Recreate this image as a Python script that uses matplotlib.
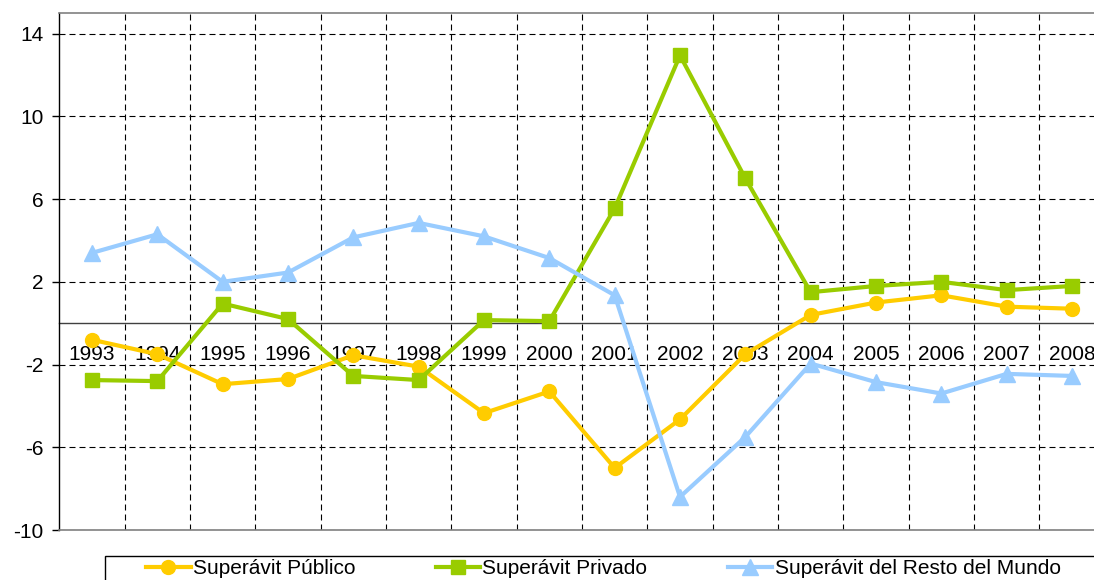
import matplotlib
matplotlib.use("Agg")
import matplotlib.pyplot as plt
from matplotlib.patches import Rectangle

plt.rcParams["font.family"] = ["Liberation Sans", "DejaVu Sans"]
plt.rcParams["font.size"] = 15
plt.rcParams["axes.unicode_minus"] = False

years = ["1993", "1994", "1995", "1996", "1997", "1998", "1999", "2000",
         "2001", "2002", "2003", "2004", "2005", "2006", "2007", "2008"]
publico = [-0.8, -1.5, -2.95, -2.7, -1.55, -2.1, -4.35, -3.3,
           -7.0, -4.65, -1.5, 0.4, 1.0, 1.35, 0.8, 0.7]
privado = [-2.75, -2.8, 0.95, 0.2, -2.55, -2.75, 0.15, 0.1,
           5.55, 12.95, 7.0, 1.5, 1.8, 2.0, 1.6, 1.8]
resto = [3.4, 4.3, 2.0, 2.45, 4.15, 4.85, 4.2, 3.15,
         1.35, -8.4, -5.5, -1.95, -2.85, -3.4, -2.45, -2.55]
yticks = [-10, -6, -2, 2, 6, 10, 14]

c_pub = "#FFCC00"
c_priv = "#99CC00"
c_resto = "#99CCFF"

fig = plt.figure(figsize=(10.94, 5.8), dpi=100)
ax = fig.add_axes([59.3 / 1094, 50 / 580, 1045.4 / 1094, 517 / 580])

x = list(range(len(years)))
ax.plot(x, publico, color=c_pub, lw=3, marker="o", ms=10, label="Superávit Público", zorder=4)
ax.plot(x, privado, color=c_priv, lw=3, marker="s", ms=9.5, label="Superávit Privado", zorder=4)
ax.plot(x, resto, color=c_resto, lw=3, marker="^", ms=11, label="Superávit del Resto del Mundo", zorder=4)

ax.set_xlim(-0.5, len(years) - 0.5)
ax.set_ylim(-10, 15)
ax.set_yticks(yticks)
ax.set_xticks([i + 0.5 for i in range(len(years) - 1)])
ax.set_xticklabels([])
ax.tick_params(axis="x", length=0)
ax.tick_params(axis="y", direction="out", length=5, width=1, color="black", pad=6.5)

ax.grid(True, color="black", lw=0.8, linestyle=(0, (5.4, 3.6)), zorder=1)
ax.set_axisbelow(True)

for side in ["top", "right", "bottom"]:
    ax.spines[side].set_color("#808080")
    ax.spines[side].set_linewidth(1.2)
ax.spines["left"].set_color("black")
ax.spines["left"].set_linewidth(1)

# category axis crossing at zero
sec = ax.secondary_xaxis(10 / 25)
sec.set_xticks(x)
sec.set_xticklabels(years)
sec.tick_params(length=0, pad=15.5)
sec.spines["bottom"].set_color("#404040")
sec.spines["bottom"].set_linewidth(1)

fig.patches.append(Rectangle((105 / 1094, -0.1), 1.0, 0.1 + 24 / 580,
                             transform=fig.transFigure, fill=False,
                             edgecolor="black", lw=1))
fig.legend(loc="center left", bbox_to_anchor=(146 / 1094, 11 / 580),
           bbox_transform=fig.transFigure, ncol=3, frameon=False,
           borderpad=0, borderaxespad=0, handlelength=2.15,
           handletextpad=0.1, columnspacing=3.85)

fig.savefig("out.png", dpi=100)
